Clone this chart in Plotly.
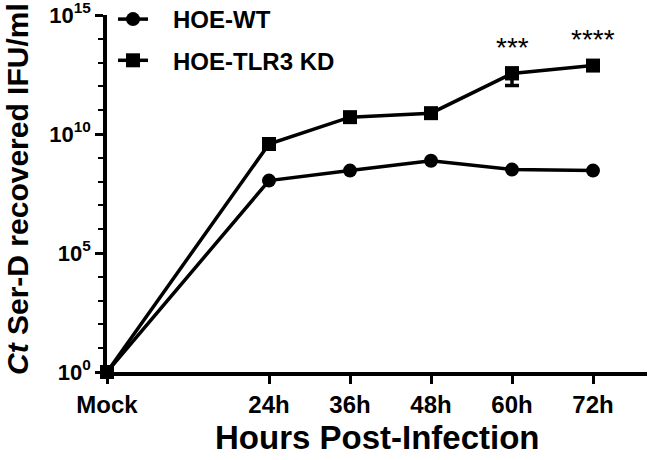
import math
import plotly.graph_objects as go

categories = ["Mock", "24h", "36h", "48h", "60h", "72h"]
hours = [0, 24, 36, 48, 60, 72]
wt_values = [1, 1.1e8, 2.9e8, 7.5e8, 3.2e8, 2.9e8]
kd_values = [1, 3.8e9, 5.1e10, 7.5e10, 3.5e12, 7.5e12]
kd_err = [0, 0, 0, 0, 2.4e12, 0]
sig_labels = ["", "", "", "", "***", "****"]
y_tick_exp = [0, 5, 10, 15]

FONT = "Liberation Sans"
L, R, T, B = 107, 3, 15, 88
W, H = 650, 460
pw, ph = W - L - R, H - T - B

fig = go.Figure()
fig.add_trace(go.Scatter(
    x=hours, y=wt_values, mode="lines+markers", name="&nbsp;&nbsp;&nbsp;<b>HOE-WT</b>",
    legendgroup="a",
    line=dict(color="black", width=3.5),
    marker=dict(symbol="circle", size=14, color="black"),
    cliponaxis=False,
))
fig.add_trace(go.Scatter(
    x=hours, y=kd_values, mode="lines+markers", name="&nbsp;&nbsp;&nbsp;<b>HOE-TLR3 KD</b>",
    legendgroup="b",
    line=dict(color="black", width=3.5),
    marker=dict(symbol="square", size=14, color="black"),
    error_y=dict(type="data", array=kd_err, visible=True, color="black",
                 thickness=3.5, width=7),
    cliponaxis=False,
))

for h, v, s in zip(hours, kd_values, sig_labels):
    if s:
        fig.add_annotation(x=h, y=math.log10(v) + 1.1, text=s, showarrow=False,
                           xref="x", yref="y",
                           font=dict(family=FONT, size=28, color="black"))

# axis titles (placed in paper coordinates)
fig.add_annotation(x=0.5, y=(H - 437 - B) / ph, xref="paper", yref="paper",
                   text="<b>Hours Post-Infection</b>", yanchor="middle",
                   showarrow=False, font=dict(family=FONT, size=33, color="black"))
fig.add_annotation(x=(17 - L) / pw, y=(H - 189 - B) / ph, xref="paper", yref="paper",
                   text="<b><i>Ct</i> Ser-D recovered IFU/ml</b>", textangle=-90,
                   xanchor="center", yanchor="middle",
                   showarrow=False, font=dict(family=FONT, size=30, color="black"))

fig.update_layout(
    width=W, height=H,
    margin=dict(l=L, r=R, t=T, b=B, autoexpand=False),
    paper_bgcolor="white", plot_bgcolor="white",
    font=dict(family=FONT, color="black"),
    showlegend=True,
    legend=dict(x=(113 - L) / pw, y=(H + 3 - B) / ph, xanchor="left", yanchor="top",
                font=dict(family=FONT, size=24, color="black"),
                tracegroupgap=7, bgcolor="rgba(0,0,0,0)"),
)
fig.update_xaxes(
    range=[0, 80], tickvals=hours, ticktext=["<b>%s</b>" % c for c in categories],
    tickfont=dict(family=FONT, size=24, color="black"),
    showline=True, linecolor="black", linewidth=3.5,
    ticks="outside", ticklen=8, tickwidth=3, tickcolor="black",
    showgrid=False, zeroline=False, automargin=False, ticklabeloverflow="allow",
)
fig.update_yaxes(
    type="log", range=[0, 15],
    tickvals=[10 ** e for e in y_tick_exp],
    ticktext=["<b>10<sup>%d</sup></b>" % e for e in y_tick_exp],
    tickfont=dict(family=FONT, size=22, color="black"),
    showline=True, linecolor="black", linewidth=3.5,
    ticks="outside", ticklen=8, tickwidth=3, tickcolor="black",
    minor=dict(tickvals=[10 ** k for k in range(0, 16)], ticks="outside", ticklen=5, tickwidth=2, tickcolor="black"),
    showgrid=False, zeroline=False, automargin=False, ticklabeloverflow="allow",
)

fig.write_html("out.html", config={"displayModeBar": False},
               post_script="document.body.style.margin='0px';document.body.style.overflow='hidden';")
